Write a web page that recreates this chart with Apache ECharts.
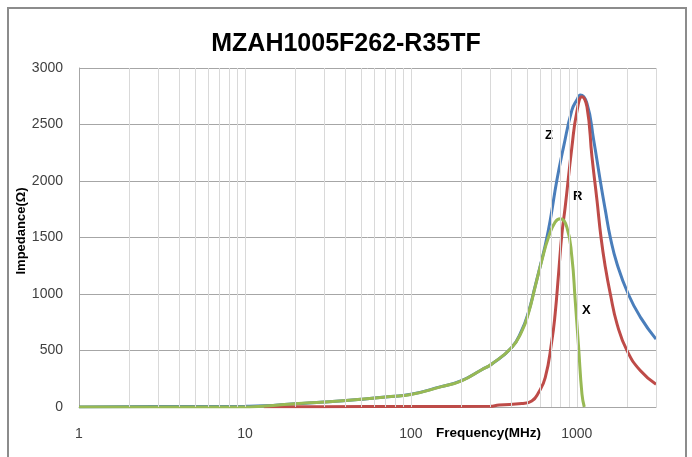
<!DOCTYPE html>
<html>
<head>
<meta charset="utf-8">
<script src="https://cdn.jsdelivr.net/npm/echarts@6/dist/echarts.min.js"></script>
<style>
  html, body { margin: 0; padding: 0; background: #ffffff; }
  #chart { width: 692px; height: 457px; }
</style>
</head>
<body>
<div id="chart"></div>
<script>
// ---- Data (frequency in MHz, impedance in ohm) ----
const titleText = 'MZAH1005F262-R35TF';
const xAxisName = 'Frequency(MHz)';
const yAxisName = 'Impedance(\u03A9)';
const seriesNames = ['Z', 'R', 'X'];

const freqZ = [1, 1.6, 5, 10, 13, 20, 30, 50, 76, 100, 150, 200, 267, 306, 405, 466, 511, 560, 615, 645, 691, 758, 832, 934, 1000, 1049, 1151, 1264, 1385, 1486, 1592, 1748, 2040, 2420, 3000];
const valZ  = [0, 3, 4, 6, 10, 29, 44, 68, 92, 112, 178, 231, 330, 379, 527, 680, 840, 1065, 1305, 1430, 1651, 2006, 2302, 2627, 2716, 2760, 2686, 2361, 2000, 1740, 1500, 1266, 1000, 793, 601];

const freqR = [13, 30, 100, 300, 340, 466, 535, 587, 645, 707, 740, 776, 813, 851, 934, 1000, 1074, 1151, 1234, 1323, 1399, 1486, 1592, 1748, 2010, 2420, 3000];
const valR  = [2, 3, 4, 6, 18, 30, 53, 127, 260, 586, 823, 1178, 1533, 1770, 2300, 2610, 2745, 2657, 2213, 1828, 1500, 1236, 1000, 734, 497, 320, 201];

const freqX = [1, 9.4, 13.3, 20, 30, 50, 76, 100, 153, 202, 267, 306, 405, 466, 511, 560, 615, 675, 740, 794, 871, 934, 978, 1025, 1074, 1109];
const valX  = [0, 0, 9, 29, 44, 68, 92, 110, 180, 231, 330, 379, 527, 670, 830, 1059, 1296, 1503, 1636, 1666, 1591, 1325, 941, 527, 113, 0];

const xTicks = [1, 10, 100, 1000];
const gridFreqs = [2,3,4,5,6,7,8,9,10,20,30,40,50,60,70,80,90,100,200,300,400,500,600,700,800,900,1000,2000,3000];

const zip = (a, b) => a.map((v, i) => [v, b[i]]);

const chart = echarts.init(document.getElementById('chart'), null, { renderer: 'canvas' });

const baseFont = 'Liberation Sans, Arial, sans-serif';

function curve(name, data, color) {
  return {
    name: name, type: 'line', data: data, showSymbol: false, symbol: 'none',
    smooth: 0.5, z: 3,
    lineStyle: { color: color, width: 3 },
    emphasis: { disabled: true }
  };
}

chart.setOption({
  animation: false,
  backgroundColor: '#ffffff',
  title: {
    text: titleText, left: 'center', top: 27,
    textStyle: { fontFamily: baseFont, fontSize: 25, fontWeight: 'bold', color: '#000000' }
  },
  grid: { left: 79, right: 36, top: 68, bottom: 50, containLabel: false, outerBoundsMode: 'none' },
  xAxis: {
    type: 'log', logBase: 10, min: 1, max: 3000,
    axisLine: { show: true, lineStyle: { color: '#a6a6a6', width: 1 } },
    axisTick: { show: false },
    splitLine: { show: false },
    minorTick: { show: false },
    axisLabel: {
      margin: 20, fontFamily: baseFont, fontSize: 14, color: '#404040',
      formatter: function (v) { return xTicks.indexOf(Math.round(v)) >= 0 ? String(Math.round(v)) : ''; },
      showMaxLabel: false
    }
  },
  yAxis: {
    type: 'value', min: 0, max: 3000, interval: 500,
    axisLine: { show: true, lineStyle: { color: '#a6a6a6', width: 1 } },
    axisTick: { show: false },
    splitLine: { show: true, lineStyle: { color: '#a6a6a6', width: 1 } },
    axisLabel: { margin: 16, fontFamily: baseFont, fontSize: 14, color: '#404040',
      formatter: function (v) { return String(v); } }
  },
  series: [
    {
      name: 'grid', type: 'line', data: [], z: 1, silent: true,
      markLine: {
        silent: true, symbol: 'none', animation: false,
        label: { show: false },
        lineStyle: { color: '#d9d9d9', width: 1, type: 'solid' },
        emphasis: { disabled: true },
        data: gridFreqs.map(f => ({ xAxis: f }))
      }
    },
    curve(seriesNames[0], zip(freqZ, valZ), '#4a7ebb'),
    curve(seriesNames[1], zip(freqR, valR), '#be4b48'),
    curve(seriesNames[2], zip(freqX, valX), '#98b954')
  ],
  graphic: [
    { type: 'rect', silent: true, z: -1,
      shape: { x: 8, y: 8, width: 678, height: 470 },
      style: { fill: 'none', stroke: '#8c8c8c', lineWidth: 2 } },
    { type: 'text', x: 21, y: 231, rotation: Math.PI / 2, silent: true,
      style: { text: yAxisName, fontFamily: baseFont, fontSize: 13, fontWeight: 'bold', fill: '#000000',
               align: 'center', verticalAlign: 'middle' } },
    { type: 'text', left: 436, top: 426, silent: true,
      style: { text: xAxisName, fontFamily: baseFont, fontSize: 13.5, fontWeight: 'bold', fill: '#000000' } },
    { type: 'text', left: 545, top: 129, silent: true,
      style: { text: seriesNames[0], fontFamily: baseFont, fontSize: 13, fontWeight: 'bold', fill: '#000000' } },
    { type: 'text', left: 573, top: 190, silent: true,
      style: { text: seriesNames[1], fontFamily: baseFont, fontSize: 13, fontWeight: 'bold', fill: '#000000' } },
    { type: 'text', left: 582, top: 304, silent: true,
      style: { text: seriesNames[2], fontFamily: baseFont, fontSize: 13, fontWeight: 'bold', fill: '#000000' } }
  ]
});
</script>
</body>
</html>
